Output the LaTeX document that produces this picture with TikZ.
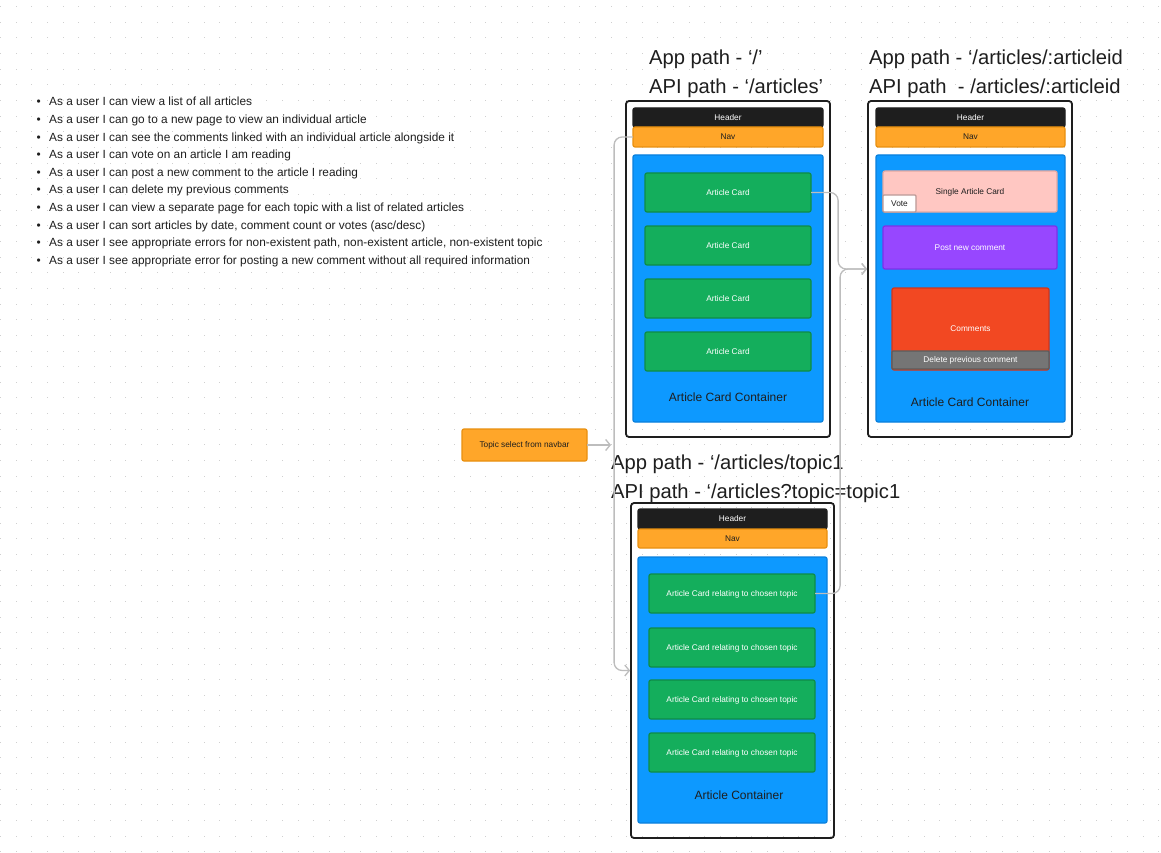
\documentclass[tikz,border=0pt]{standalone}
\usepackage{fontspec}
\setmainfont{Liberation Sans}
\usetikzlibrary{arrows.meta}
\definecolor{ink}{HTML}{1E1E1E}
\definecolor{dotc}{HTML}{CFCFCF}
\definecolor{navf}{HTML}{FFA629}
\definecolor{navd}{HTML}{E8900F}
\definecolor{bluf}{HTML}{0D99FF}
\definecolor{blud}{HTML}{0A80DC}
\definecolor{grnf}{HTML}{14AE5C}
\definecolor{grnd}{HTML}{0E8C48}
\definecolor{pnkf}{HTML}{FFC7C2}
\definecolor{pnkd}{HTML}{E3A9A3}
\definecolor{purf}{HTML}{9747FF}
\definecolor{purd}{HTML}{7E30E8}
\definecolor{redf}{HTML}{F24822}
\definecolor{redd}{HTML}{D2351A}
\definecolor{gryf}{HTML}{757575}
\definecolor{gryd}{HTML}{5C5C5C}
\definecolor{conc}{HTML}{BDBDBD}
\newcommand\mybox[7]{%
  \pgfmathsetmacro\mcx{(#3+#5)/2}\pgfmathsetmacro\mcy{(#4+#6)/2}%
  \pgfmathsetmacro\mww{#5-#3}\pgfmathsetmacro\mhh{#6-#4}%
  \node[#1, minimum width=\mww pt, minimum height=\mhh pt] (#2) at (\mcx,\mcy) {#7};}
\tikzset{
  base/.style={rectangle, inner sep=0pt, outer sep=0pt, line width=1.2pt, rounded corners=2pt,
    font=\fontsize{8.3}{9}\selectfont, text height=5.9pt, text depth=0pt},
  frm/.style={rectangle, draw=ink, line width=1.8pt, rounded corners=3pt, inner sep=0pt},
  hdr/.style={base, fill=ink, draw=ink, text=white},
  nav/.style={base, fill=navf, draw=navd, text=ink},
  cont/.style={base, fill=bluf, draw=blud},
  card/.style={base, fill=grnf, draw=grnd, text=white},
  pink/.style={base, fill=pnkf, draw=pnkd, text=ink},
  vote/.style={base, fill=white, draw=pnkd!60!gray, text=ink, rounded corners=1pt},
  purp/.style={base, fill=purf, draw=purd, text=white},
  comm/.style={base, fill=redf, draw=redd, text=white},
  dele/.style={base, fill=gryf, draw=gryd, text=white, rounded corners=1pt},
  topic/.style={base, fill=navf, draw=navd, text=ink},
  clab/.style={inner sep=0pt, font=\fontsize{12}{14}\selectfont, text=ink},
  ttl/.style={inner sep=0pt, anchor=base west, font=\fontsize{20.2}{24}\selectfont, text=ink},
  blt/.style={inner sep=0pt, anchor=base west, font=\fontsize{11.85}{13}\selectfont, text=ink},
  conn/.style={draw=conc, line width=1.3pt, rounded corners=8pt, -{Straight Barb[length=4.5pt,width=11pt,line width=1.3pt]}},
}
\begin{document}
\begin{tikzpicture}[x=1pt,y=-1pt]
\useasboundingbox (0,0) rectangle (1161,853);
\fill[white] (0,0) rectangle (1161,853);
% dot grid
\foreach \i in {0,...,74}{
  \foreach \j in {0,...,54}{
    \fill[dotc] ({0.15+15.65*\i},{6.2+15.65*\j}) rectangle +(1,1);
  }
}
% bullet list
\foreach \t [count=\k from 0] in {
  {As a user I can view a list of all articles},
  {As a user I can go to a new page to view an individual article},
  {As a user I can see the comments linked with an individual article alongside it},
  {As a user I can vote on an article I am reading},
  {As a user I can post a new comment to the article I reading},
  {As a user I can delete my previous comments},
  {As a user I can view a separate page for each topic with a list of related articles},
  {As a user I can sort articles by date, comment count or votes (asc/desc)},
  {As a user I see appropriate errors for non-existent path, non-existent article, non-existent topic},
  {As a user I see appropriate error for posting a new comment without all required information}}{
  \node[blt] (b\k) at (49,{106+17.59*\k}) {\t};
  \node[blt] (d\k) at (36.5,{106+17.59*\k}) {•};
}
% ---------- middle page ----------
\node[ttl] (mt1) at (649,65) {App path - ‘/’};
\node[ttl] (mt2) at (649,94) {API path - ‘/articles’};
\mybox{frm}{mframe}{626}{101}{830}{437}{}
\mybox{hdr}{mhdr}{633}{108}{823}{127}{Header}
\mybox{nav}{mnav}{633}{127}{823}{147}{Nav}
\mybox{cont}{mcont}{633}{155}{823}{422}{}
\mybox{card}{mcard1}{645}{173}{811}{212}{Article Card}
\mybox{card}{mcard2}{645}{226}{811}{265}{Article Card}
\mybox{card}{mcard3}{645}{279}{811}{318}{Article Card}
\mybox{card}{mcard4}{645}{332}{811}{371}{Article Card}
\node[clab] (mlab) at (728,397.5) {Article Card Container};
% ---------- right page ----------
\node[ttl] (rt1) at (869,65) {App path - ‘/articles/:articleid};
\node[ttl] (rt2) at (869,94) {API path \ - /articles/:articleid};
\mybox{frm}{rframe}{868}{101}{1072}{437}{}
\mybox{hdr}{rhdr}{876}{108}{1065}{127}{Header}
\mybox{nav}{rnav}{876}{127}{1065}{147}{Nav}
\mybox{cont}{rcont}{876}{155}{1065}{422}{}
\mybox{pink}{rsingle}{883}{171}{1057}{212}{Single Article Card}
\mybox{vote}{rvote}{883}{195}{916}{212}{Vote}
\mybox{purp}{rpost}{883}{226}{1057}{269}{Post new comment}
\mybox{comm}{rcomm}{892}{288}{1049}{370}{Comments}
\mybox{dele}{rdel}{892}{351}{1049}{369}{Delete previous comment}
\node[clab] (rlab) at (970,402) {Article Card Container};
% ---------- bottom page ----------
\node[ttl] (bt1) at (611,469) {App path - ‘/articles/topic1};
\node[ttl] (bt2) at (611,498) {API path - ‘/articles?topic=topic1};
\mybox{frm}{bframe}{631}{503}{834}{838}{}
\mybox{hdr}{bhdr}{638}{509}{827}{529}{Header}
\mybox{nav}{bnav}{638}{529}{827}{548}{Nav}
\mybox{cont}{bcont}{638}{557}{827}{823}{}
\mybox{card}{bcard1}{649}{574}{815}{613}{Article Card relating to chosen topic}
\mybox{card}{bcard2}{649}{628}{815}{667}{Article Card relating to chosen topic}
\mybox{card}{bcard3}{649}{680}{815}{719}{Article Card relating to chosen topic}
\mybox{card}{bcard4}{649}{733}{815}{772}{Article Card relating to chosen topic}
\node[clab] (blab) at (739,795) {Article Container};
% ---------- topic select ----------
\mybox{topic}{topic}{462}{429}{587}{461}{Topic select from navbar}
\coordinate (tend) at (611,445);
% ---------- connectors ----------
\draw[conn] (mnav.west) -| ([xshift=-16pt]bframe.west) -- (bframe.west);
\draw[conn] (topic.east) -- (tend);
\draw[conn] (mcard1.east) -| ([xshift=-29pt]rframe.west) -- (rframe.west);
\draw[conn] (bcard1.east) -| ([xshift=-27pt]rframe.west) -- (rframe.west);
\end{tikzpicture}
\end{document}
